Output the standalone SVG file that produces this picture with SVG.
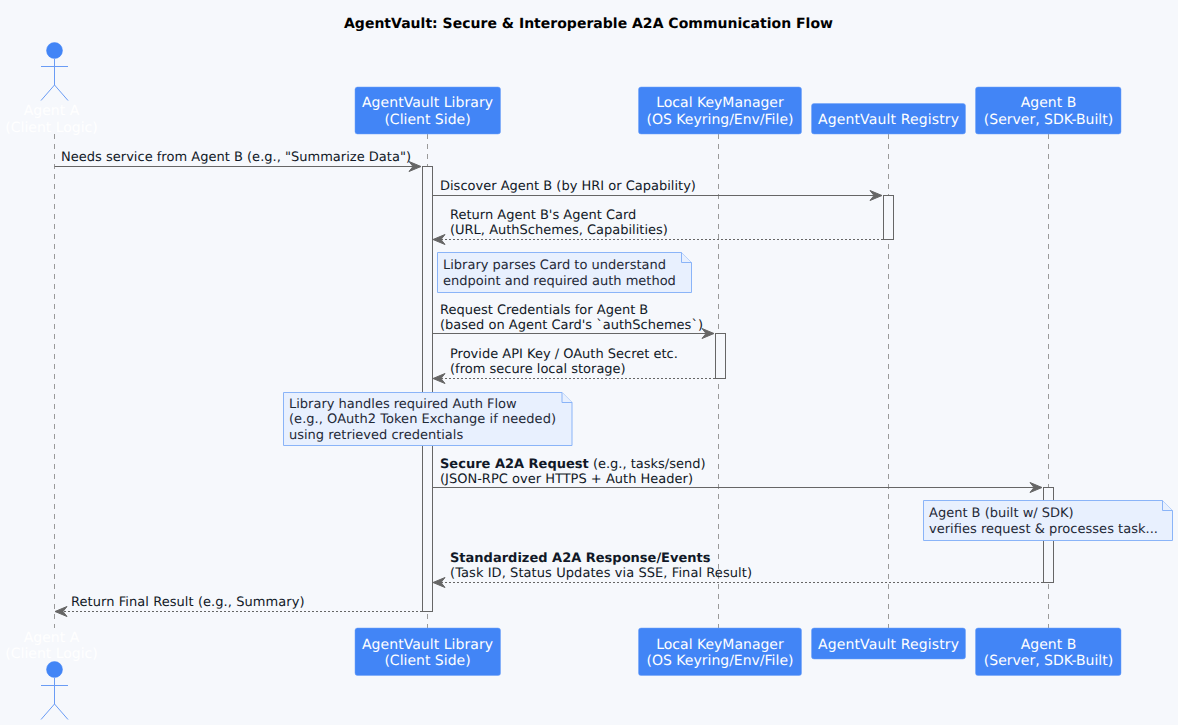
<svg xmlns="http://www.w3.org/2000/svg" width="1178" height="725" viewBox="0 0 1178 725">
<style>
text{font-family:"DejaVu Sans",sans-serif;font-size:13px;fill:#111827;text-rendering:geometricPrecision}
.title{font-size:14px;font-weight:bold;fill:#000;text-anchor:middle}
.p{font-size:14px;fill:#fff;text-anchor:middle}
.box{fill:#4285f6;stroke:#6ea0f8;stroke-width:.5}
.actor{fill:none;stroke:#6a9cf5;stroke-width:1}
.head{fill:#4285f6;stroke:#4285f6;stroke-width:.5}
.life{stroke:#9a9a9a;stroke-width:1;stroke-dasharray:5 5;fill:none}
.msg{stroke:#666;stroke-width:1;fill:none}
.ret{stroke:#666;stroke-width:1;stroke-dasharray:2 2;fill:none}
.ah{fill:#666;stroke:#666;stroke-width:1}
.act{fill:#f6f8fc;stroke:#666;stroke-width:1}
.note{fill:#e8f0fe;stroke:#8ab4f8;stroke-width:1}
.nt{fill:#1f2937}
</style>
<rect width="1178" height="725" fill="#f6f8fc"/>
<text class="title" x="588.500" y="28" textLength="489">AgentVault: Secure &amp; Interoperable A2A Communication Flow</text>
<g id="lifelines">
<path class="life" d="M54.500 134V628"/>
<path class="life" d="M427.500 134V628"/>
<path class="life" d="M718.500 134V628"/>
<path class="life" d="M888.500 134V628"/>
<path class="life" d="M1048.500 134V628"/>
</g>
<g id="activations">
<rect class="act" x="422.500" y="166.500" width="10" height="445"/>
<rect class="act" x="883.500" y="195.500" width="10" height="44"/>
<rect class="act" x="715.500" y="333.500" width="10" height="45"/>
<rect class="act" x="1043.500" y="487.500" width="10" height="95"/>
</g>
<g id="connectors">
<path class="msg" d="M54.500 166.500H420"/><path class="ah" d="M409 161.500L421 166.500L409 171.500L413 166.500Z"/>
<path class="msg" d="M432.500 195.500H881"/><path class="ah" d="M870 190.500L882 195.500L870 200.500L874 195.500Z"/>
<path class="ret" d="M883 239.500H434"/><path class="ah" d="M445 234.500L433 239.500L445 244.500L441 239.500Z"/>
<path class="msg" d="M432.500 333.500H713"/><path class="ah" d="M702 328.500L714 333.500L702 338.500L706 333.500Z"/>
<path class="ret" d="M715 378.500H434"/><path class="ah" d="M445 373.500L433 378.500L445 383.500L441 378.500Z"/>
<path class="msg" d="M432.500 487.500H1041"/><path class="ah" d="M1030 482.500L1042 487.500L1030 492.500L1034 487.500Z"/>
<path class="ret" d="M1043 582.500H434"/><path class="ah" d="M445 577.500L433 582.500L445 587.500L441 582.500Z"/>
<path class="ret" d="M422 611.500H56"/><path class="ah" d="M67 606.500L55 611.500L67 616.500L63 611.500Z"/>
</g>
<g id="labels">
<text x="61" y="161" textLength="350">Needs service from Agent B (e.g., "Summarize Data")</text>
<text x="440" y="190">Discover Agent B (by HRI or Capability)</text>
<text x="450" y="219">Return Agent B's Agent Card</text>
<text x="450" y="234">(URL, AuthSchemes, Capabilities)</text>
<text x="440" y="314">Request Credentials for Agent B</text>
<text x="440" y="329">(based on Agent Card's `authSchemes`)</text>
<text x="450" y="358">Provide API Key / OAuth Secret etc.</text>
<text x="450" y="373">(from secure local storage)</text>
<text x="440" y="468"><tspan font-weight="bold">Secure A2A Request</tspan> (e.g., tasks/send)</text>
<text x="440" y="483" textLength="253">(JSON-RPC over HTTPS + Auth Header)</text>
<text x="450" y="562"><tspan font-weight="bold">Standardized A2A Response/Events</tspan></text>
<text x="450" y="577" textLength="302">(Task ID, Status Updates via SSE, Final Result)</text>
<text x="71" y="606" textLength="233.500">Return Final Result (e.g., Summary)</text>
</g>
<g id="note-parse">
<path class="note" d="M437.500 252.500H681.500L691.500 262.500V292.500H437.500Z"/><path class="note" d="M681.500 252.500V262.500H691.500"/>
<text class="nt" x="443" y="269">Library parses Card to understand</text>
<text class="nt" x="443" y="285">endpoint and required auth method</text>
</g>
<g id="note-auth">
<path class="note" d="M283.500 392.500H562L572 402.500V445.500H283.500Z"/><path class="note" d="M562 392.500V402.500H572"/>
<text class="nt" x="289" y="408">Library handles required Auth Flow</text>
<text class="nt" x="289" y="423" textLength="267">(e.g., OAuth2 Token Exchange if needed)</text>
<text class="nt" x="289" y="439">using retrieved credentials</text>
</g>
<g id="note-agentb">
<path class="note" d="M923.500 500.500H1162.500L1172.500 510.500V540.500H923.500Z"/><path class="note" d="M1162.500 500.500V510.500H1172.500"/>
<text class="nt" x="929" y="517">Agent B (built w/ SDK)</text>
<text class="nt" x="929" y="533" textLength="229">verifies request &amp; processes task...</text>
</g>
<g id="agent-a-top">
<circle class="head" cx="54.500" cy="50.500" r="8"/>
<path class="actor" d="M54.500 59V85M41 66.500H68M54.500 85L41 100.500M54.500 85L68 100.500"/>
<text class="p" x="51.500" y="115">Agent A</text><text class="p" x="51.500" y="132">(Client Logic)</text>
</g>
<g id="agent-a-bottom">
<text class="p" x="51.500" y="642">Agent A</text><text class="p" x="51.500" y="658">(Client Logic)</text>
<circle class="head" cx="54.500" cy="669.500" r="8"/>
<path class="actor" d="M54.500 678V704M41 685.500H68M54.500 704L41 719.500M54.500 704L68 719.500"/>
</g>
<g id="library-top"><rect class="box" x="355" y="87" width="145.500" height="47" rx="2.500"/><text class="p" x="427.500" y="107" textLength="131">AgentVault Library</text><text class="p" x="427.500" y="124">(Client Side)</text></g>
<g id="library-bottom"><rect class="box" x="355" y="628" width="145.500" height="47.500" rx="2.500"/><text class="p" x="427.500" y="649" textLength="131">AgentVault Library</text><text class="p" x="427.500" y="665">(Client Side)</text></g>
<g id="keymanager-top"><rect class="box" x="638.500" y="87" width="163" height="47" rx="2.500"/><text class="p" x="720" y="107">Local KeyManager</text><text class="p" x="720" y="124">(OS Keyring/Env/File)</text></g>
<g id="keymanager-bottom"><rect class="box" x="638.500" y="628" width="163" height="47.500" rx="2.500"/><text class="p" x="720" y="649">Local KeyManager</text><text class="p" x="720" y="665">(OS Keyring/Env/File)</text></g>
<g id="registry-top"><rect class="box" x="811.500" y="103.500" width="154" height="30.500" rx="2.500"/><text class="p" x="888.500" y="124" textLength="141">AgentVault Registry</text></g>
<g id="registry-bottom"><rect class="box" x="811.500" y="628" width="154" height="31" rx="2.500"/><text class="p" x="888.500" y="649" textLength="141">AgentVault Registry</text></g>
<g id="agent-b-top"><rect class="box" x="975.500" y="87" width="145.500" height="47" rx="2.500"/><text class="p" x="1048.500" y="107">Agent B</text><text class="p" x="1048.500" y="124">(Server, SDK-Built)</text></g>
<g id="agent-b-bottom"><rect class="box" x="975.500" y="628" width="145.500" height="47.500" rx="2.500"/><text class="p" x="1048.500" y="649">Agent B</text><text class="p" x="1048.500" y="665">(Server, SDK-Built)</text></g>
</svg>
